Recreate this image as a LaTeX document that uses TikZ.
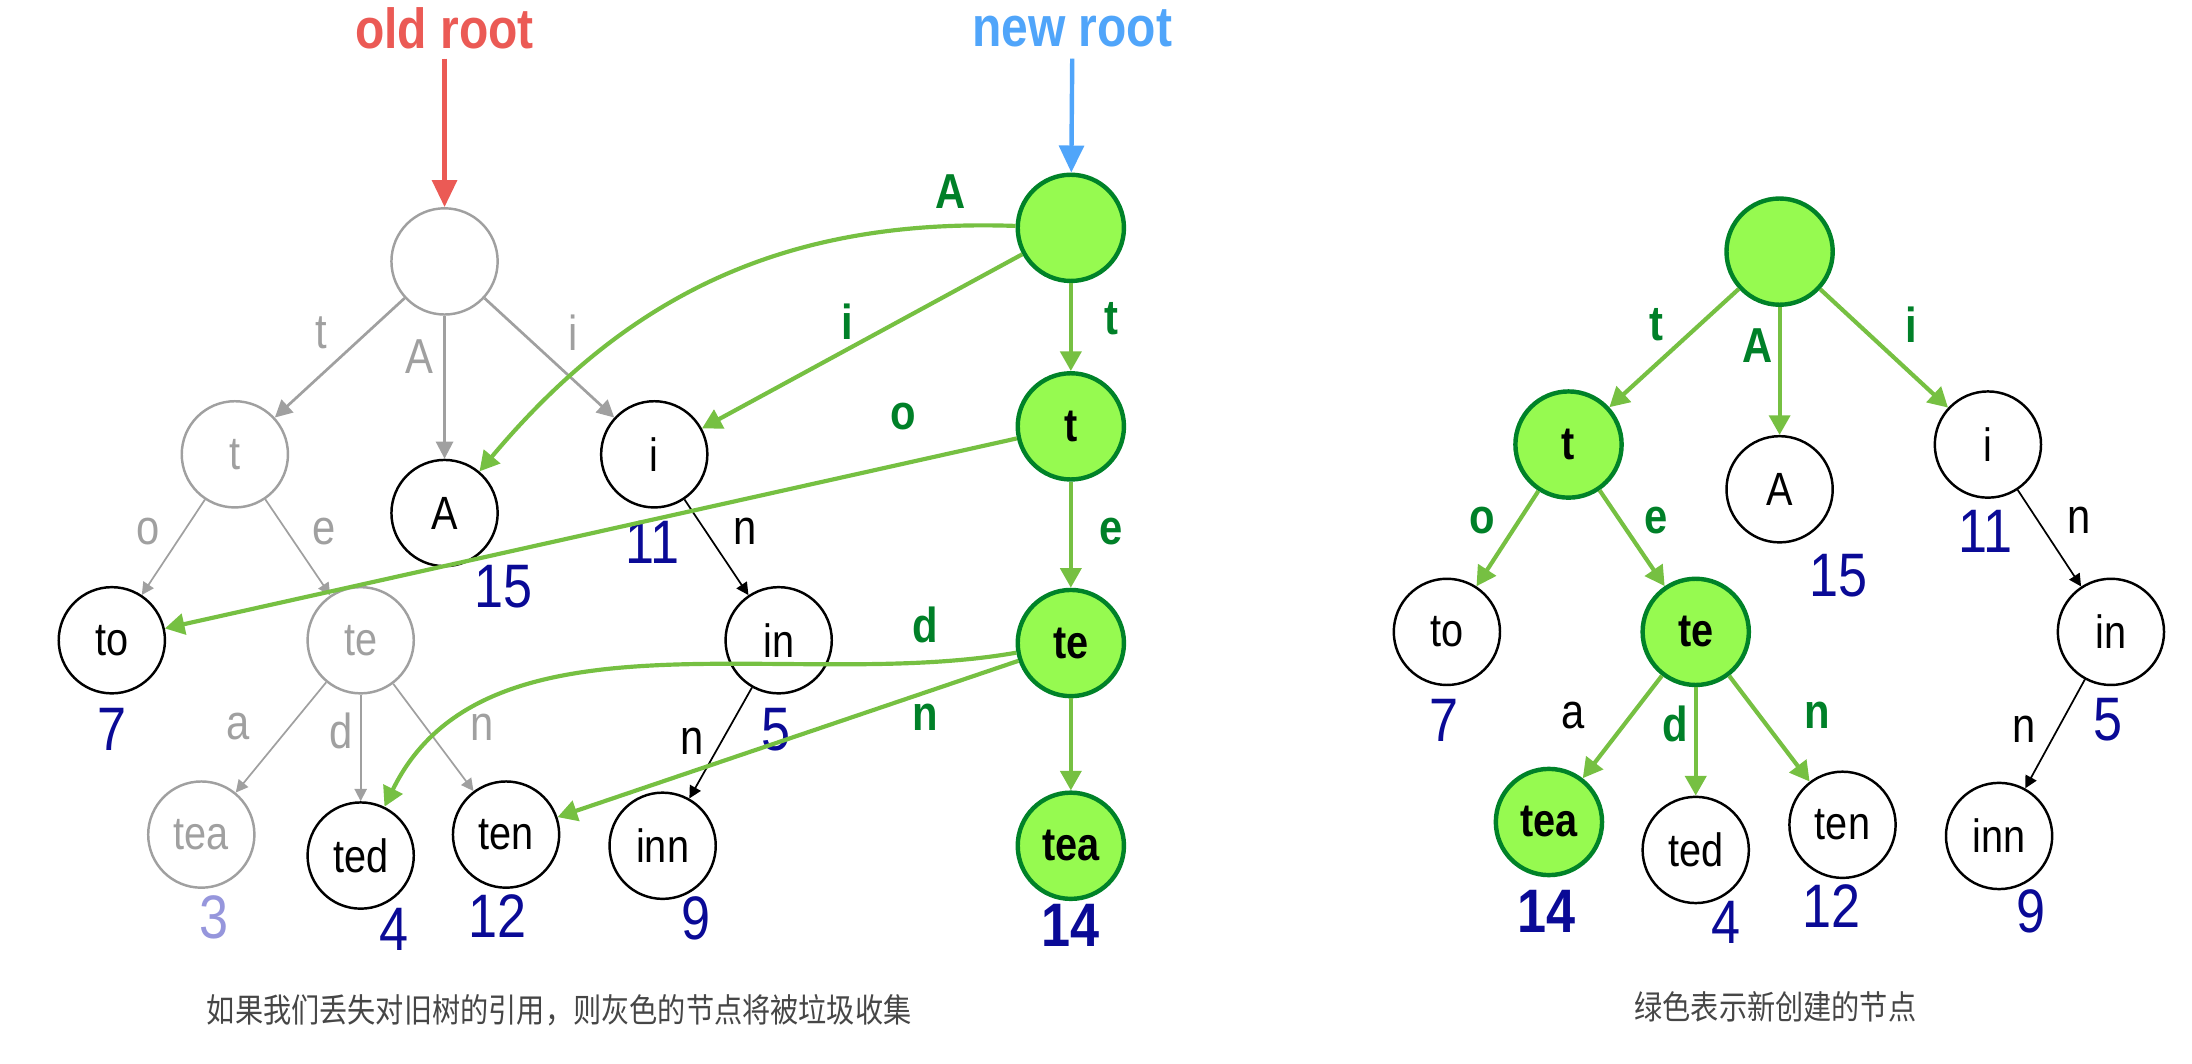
\documentclass[tikz,border=0pt]{standalone}
\usepackage{fontspec}
\setmainfont{Liberation Sans}[FakeStretch=0.85]
\newfontfamily\cjkfont{Noto Sans CJK SC}[FakeStretch=0.85]
\usetikzlibrary{arrows.meta}

\definecolor{oldgray}{RGB}{160,160,160}
\definecolor{newfill}{RGB}{150,250,80}
\definecolor{newborder}{RGB}{0,130,40}
\definecolor{newline}{RGB}{118,192,66}
\definecolor{newtext}{RGB}{0,128,40}
\definecolor{valblue}{RGB}{10,10,150}
\definecolor{vallight}{RGB}{150,150,220}
\definecolor{oldred}{RGB}{235,90,85}
\definecolor{newblue}{RGB}{80,165,250}
\definecolor{capgray}{RGB}{70,70,70}

\begin{document}
\begin{tikzpicture}[x=0.02cm, y=0.02cm]
% Styles
\tikzset{
trienode/.style={circle, draw, line width=1pt, minimum size=1.52cm, inner sep=0pt, font=\fontsize{19}{22}\selectfont},
oldnode/.style={trienode, draw=oldgray, text=oldgray},
keepnode/.style={trienode, draw=black},
newnode/.style={trienode, draw=newborder, fill=newfill, line width=1.8pt, font=\fontsize{19}{22}\selectfont\bfseries},
val/.style={text=valblue, font=\fontsize{25}{28}\selectfont},
newval/.style={val, font=\fontsize{25}{28}\selectfont\bfseries},
lbl/.style={font=\fontsize{20}{22}\selectfont},
oldlbl/.style={lbl, text=oldgray},
newlbl/.style={lbl, text=newtext, font=\fontsize{20}{22}\selectfont\bfseries},
oldedge/.style={draw=oldgray, line width=1.1pt, -{Triangle[length=7pt, width=7pt]}},
oldthin/.style={draw=oldgray, line width=0.7pt, -{Triangle[length=5pt, width=5pt]}},
keepedge/.style={draw=black, line width=0.7pt, -{Triangle[length=5pt, width=5pt]}},
newedge/.style={draw=newline, line width=1.7pt, -{Triangle[length=8pt, width=8.5pt]}},
rootarrow/.style={line width=1.8pt, -{Triangle[length=11pt, width=10pt]}},
caption/.style={text=capgray, font=\cjkfont\fontsize{13.5}{16}\selectfont}
}
\useasboundingbox (0,0) rectangle (1568,761);

% Old tree
\node[oldnode] (oroot) at (318,574) {};
\node[oldnode] (ot) at (168,436) {t};
\node[keepnode] (oA) at (318,394) {A};
\node[keepnode] (oi) at (468,436) {i};
\node[keepnode] (oto) at (80,303) {to};
\node[oldnode] (ote) at (258,303) {te};
\node[keepnode] (oin) at (557,303) {in};
\node[oldnode] (otea) at (144,164) {tea};
\node[keepnode] (oted) at (258,149) {ted};
\node[keepnode] (oten) at (362,164) {ten};
\node[keepnode] (oinn) at (474,156) {inn};
\draw[oldedge] (oroot) -- (ot);
\draw[oldedge] (oroot) -- (oA);
\draw[oldedge] (oroot) -- (oi);
\draw[oldthin] (ot) -- (oto);
\draw[oldthin] (ot) -- (ote);
\draw[oldthin] (ote) -- (otea);
\draw[oldthin] (ote) -- (oted);
\draw[oldthin] (ote) -- (oten);
\draw[keepedge] (oi) -- (oin);
\draw[keepedge] (oin) -- (oinn);
\node[oldlbl] (olt) at (230,523) {t};
\node[oldlbl] (olA) at (300,506) {A};
\node[oldlbl] (oli) at (410,523) {i};
\node[oldlbl] (olo) at (106,381) {o};
\node[oldlbl] (ole) at (232,381) {e};
\node[oldlbl] (ola) at (170,241) {a};
\node[oldlbl] (old) at (244,238) {d};
\node[oldlbl] (oln) at (345,241) {n};
\node[lbl] (olin) at (533,381) {n};
\node[lbl] (olinn) at (495,231) {n};
\node[val] (ov7) at (80,239) {7};
\node[val] (ov15) at (360,341) {15};
\node[val] (ov11) at (467,373) {11};
\node[val] (ov5) at (555,239) {5};
\node[val, text=vallight] (ov3) at (153,105) {3};
\node[val] (ov4) at (282,96) {4};
\node[val] (ov12) at (356,106) {12};
\node[val] (ov9) at (498,104) {9};

% New path
\node[newnode] (nroot) at (766,598) {};
\node[newnode] (nt) at (766,456) {t};
\node[newnode] (nte) at (766,301) {te};
\node[newnode] (ntea) at (766,156) {tea};
\node[newval] (nv14) at (766,99) {14};
\draw[newedge] (nroot) to[out=178, in=50] (oA);
\draw[newedge] (nroot) -- (oi);
\draw[newedge] (nroot) -- (nt);
\draw[newedge] (nt) -- (oto);
\draw[newedge] (nt) -- (nte);
\draw[newedge] (nte) to[out=190, in=64, looseness=0.9] (oted);
\draw[newedge] (nte) -- (oten);
\draw[newedge] (nte) -- (ntea);
\node[newlbl] (nlA) at (680,624) {A};
\node[newlbl] (nli) at (606,531) {i};
\node[newlbl] (nlt) at (795,533) {t};
\node[newlbl] (nlo) at (646,463) {o};
\node[newlbl] (nle) at (795,381) {e};
\node[newlbl] (nld) at (662,314) {d};
\node[newlbl] (nln) at (662,248) {n};

% Roots
\node[text=oldred, font=\fontsize{23}{26}\selectfont\bfseries] (oldroot) at (318,741) {old root};
\coordinate (oldtail) at (318,719);
\draw[rootarrow, draw=oldred, fill=oldred] (oldtail) -- (oroot);
\node[text=newblue, font=\fontsize{23}{26}\selectfont\bfseries] (newroot) at (767,741) {new root};
\coordinate (newtail) at (767,719);
\draw[rootarrow, draw=newblue, fill=newblue] (newtail) -- (nroot);

% Right tree
\node[newnode] (rroot) at (1273,581) {};
\node[newnode] (rt) at (1122,443) {t};
\node[keepnode] (rA) at (1273,411) {A};
\node[keepnode] (ri) at (1422,443) {i};
\node[keepnode] (rto) at (1035,309) {to};
\node[newnode] (rte) at (1213,309) {te};
\node[keepnode] (rin) at (1510,309) {in};
\node[newnode] (rtea) at (1108,173) {tea};
\node[keepnode] (rted) at (1213,153) {ted};
\node[keepnode] (rten) at (1318,171) {ten};
\node[keepnode] (rinn) at (1430,163) {inn};
\draw[newedge] (rroot) -- (rt);
\draw[newedge] (rroot) -- (rA);
\draw[newedge] (rroot) -- (ri);
\draw[newedge] (rt) -- (rto);
\draw[newedge] (rt) -- (rte);
\draw[newedge] (rte) -- (rtea);
\draw[newedge] (rte) -- (rted);
\draw[newedge] (rte) -- (rten);
\draw[keepedge] (ri) -- (rin);
\draw[keepedge] (rin) -- (rinn);
\node[newlbl] (rlt) at (1185,529) {t};
\node[newlbl] (rlA) at (1257,514) {A};
\node[newlbl] (rli) at (1367,529) {i};
\node[newlbl] (rlo) at (1060,389) {o};
\node[newlbl] (rle) at (1185,389) {e};
\node[lbl] (rla) at (1125,249) {a};
\node[newlbl] (rld) at (1198,243) {d};
\node[newlbl] (rln) at (1300,249) {n};
\node[lbl] (rlin) at (1487,389) {n};
\node[lbl] (rlinn) at (1448,239) {n};
\node[val] (rv7) at (1033,246) {7};
\node[val] (rv15) at (1315,349) {15};
\node[val] (rv11) at (1420,381) {11};
\node[val] (rv5) at (1508,246) {5};
\node[newval] (rv14) at (1106,109) {14};
\node[val] (rv4) at (1235,101) {4};
\node[val] (rv12) at (1310,113) {12};
\node[val] (rv9) at (1453,109) {9};

% Captions
\node[caption] (capleft) at (400,38) {如果我们丢失对旧树的引用，则灰色的节点将被垃圾收集};
\node[caption] (capright) at (1270,41) {绿色表示新创建的节点};
\end{tikzpicture}
\end{document}
